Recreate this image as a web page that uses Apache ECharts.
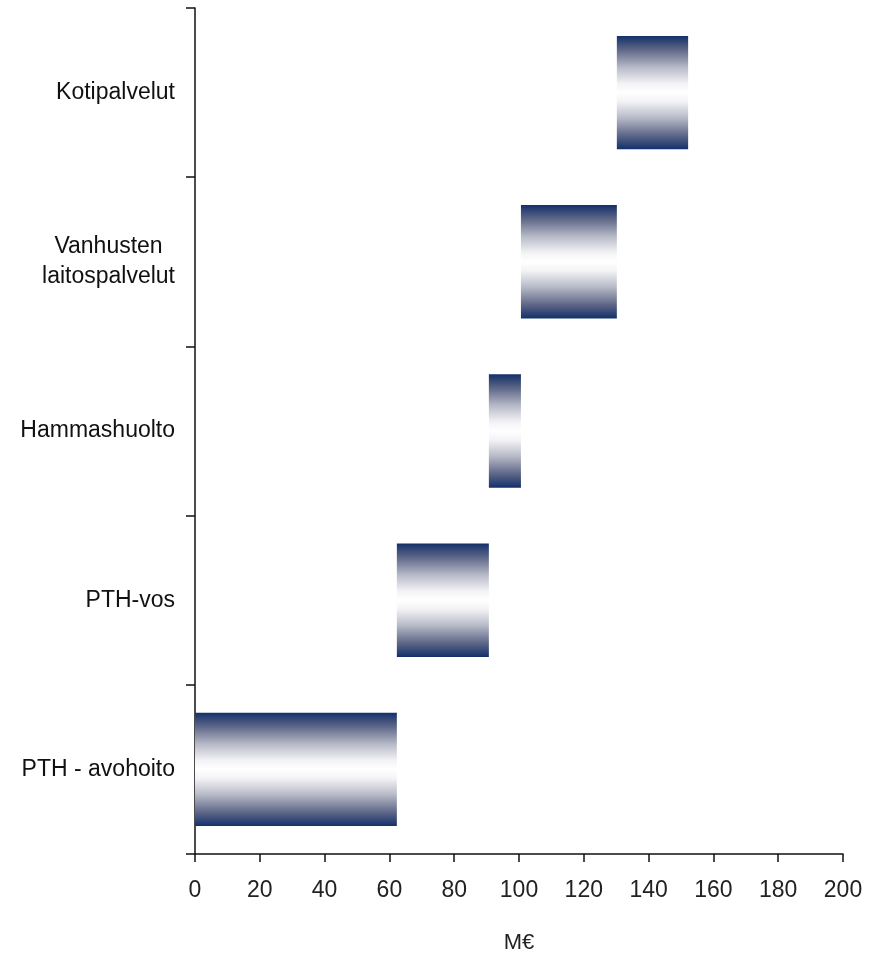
<!DOCTYPE html>
<html><head><meta charset="utf-8">
<script src="https://cdn.jsdelivr.net/npm/echarts@6/dist/echarts.min.js"></script>
<style>html,body{margin:0;padding:0;background:#fff;overflow:hidden}#c{width:880px;height:954px}</style>
</head><body><div id="c"></div>
<script>
const categories = ['PTH - avohoito', 'PTH-vos', 'Hammashuolto', 'Vanhusten\nlaitospalvelut', 'Kotipalvelut'];
const increments = [62.3, 28.4, 9.9, 29.6, 22.0];
const xTicks = [0, 20, 40, 60, 80, 100, 120, 140, 160, 180, 200];
const xName = 'M€';

const bases = [];
let acc = 0;
for (const v of increments) { bases.push(acc); acc += v; }

const grad = new echarts.graphic.LinearGradient(0, 0, 0, 1, [
  {offset: 0, color: '#13306a'},
  {offset: 0.12, color: '#5d6687'},
  {offset: 0.28, color: '#b8bbc8'},
  {offset: 0.42, color: '#f3f3f6'},
  {offset: 0.5, color: '#ffffff'},
  {offset: 0.58, color: '#f3f3f6'},
  {offset: 0.72, color: '#b8bbc8'},
  {offset: 0.88, color: '#5d6687'},
  {offset: 1, color: '#13306a'}
]);

const chart = echarts.init(document.getElementById('c'), null, {renderer: 'canvas'});
chart.setOption({
  animation: false,
  grid: {left: 195, right: 37, top: 8, bottom: 100, containLabel: false, outerBoundsMode: 'none'},
  xAxis: {
    type: 'value', min: xTicks[0], max: xTicks[xTicks.length - 1], interval: 20,
    name: xName, nameLocation: 'middle', nameGap: 78,
    nameTextStyle: {fontFamily: 'Liberation Sans', fontSize: 22, color: '#222'},
    axisLine: {show: true, lineStyle: {color: '#111', width: 1.5}},
    axisTick: {show: true, length: 8, lineStyle: {color: '#111', width: 1.5}},
    splitLine: {show: false},
    axisLabel: {margin: 25, fontFamily: 'Liberation Sans', fontSize: 23, color: '#222'}
  },
  yAxis: {
    type: 'category', data: categories,
    axisLine: {show: true, lineStyle: {color: '#111', width: 1.5}},
    axisTick: {show: true, length: 9, lineStyle: {color: '#111', width: 1.5}},
    axisLabel: {
      margin: 20, fontFamily: 'Liberation Sans', fontSize: 23, color: '#111', lineHeight: 30,
      formatter: function (v) {
        if (v.indexOf('\n') >= 0) return v.split('\n').map(s => '{c|' + s + '}').join('\n');
        return v;
      },
      rich: {c: {align: 'center', fontFamily: 'Liberation Sans', fontSize: 23, color: '#111', lineHeight: 30}}
    }
  },
  series: [
    {type: 'bar', stack: 'w', data: bases, itemStyle: {color: 'transparent'}, barWidth: '67%', silent: true},
    {type: 'bar', stack: 'w', data: increments, itemStyle: {color: grad}, barWidth: '67%'}
  ]
});
</script></body></html>
